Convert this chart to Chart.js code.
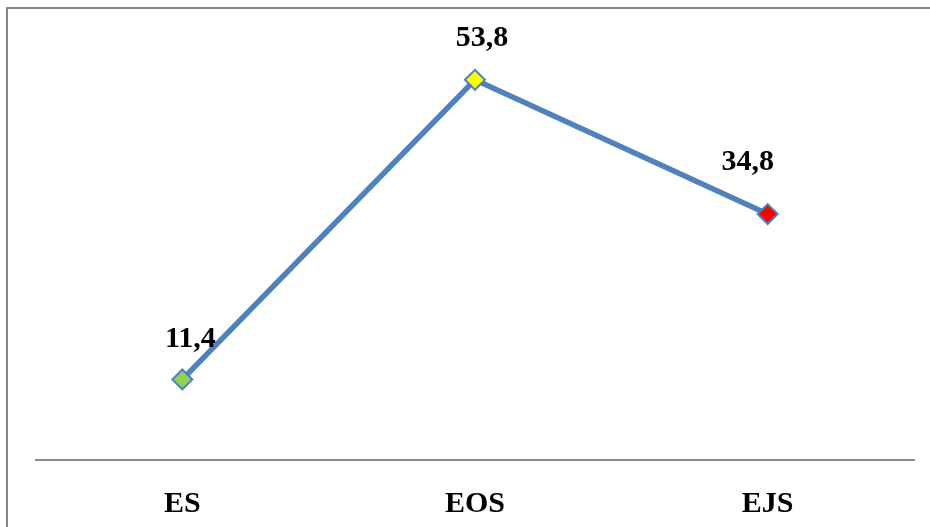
<!DOCTYPE html>
<html>
<head>
<meta charset="utf-8">
<script src="https://cdn.jsdelivr.net/npm/chart.js@4/dist/chart.umd.min.js"></script>
<style>
  html, body { margin: 0; padding: 0; background: #fff; }
  #wrap { width: 930px; height: 527px; position: relative; }
</style>
</head>
<body>
<div id="wrap"><canvas id="chart" width="930" height="527"></canvas></div>
<script>
const categories = ['ES', 'EOS', 'EJS'];
const values = [11.4, 53.8, 34.8];
const pointColors = ['#92D050', '#FFFF00', '#FF0000'];
const valueLabels = ['11,4', '53,8', '34,8'];
// label offsets relative to each point (px)
const labelOffsets = [[8, -40], [7, -42], [-20, -52]];

const FONT = '"Liberation Serif", "Times New Roman", serif';

// frame (left + top edge) and value labels
const decor = {
  id: 'decor',
  beforeDraw(chart) {
    const ctx = chart.ctx;
    ctx.save();
    ctx.strokeStyle = '#868686';
    ctx.lineWidth = 2;
    ctx.beginPath();
    ctx.moveTo(7, 527);
    ctx.lineTo(7, 8);
    ctx.lineTo(930, 8);
    ctx.stroke();
    ctx.restore();
  },
  afterDatasetsDraw(chart) {
    const ctx = chart.ctx;
    const meta = chart.getDatasetMeta(0);
    ctx.save();
    ctx.font = 'bold 30px ' + FONT;
    ctx.fillStyle = '#000';
    ctx.textAlign = 'center';
    ctx.textBaseline = 'middle';
    meta.data.forEach((pt, i) => {
      const [dx, dy] = labelOffsets[i];
      ctx.fillText(valueLabels[i], pt.x + dx, pt.y + dy);
    });
    ctx.restore();
  }
};

new Chart(document.getElementById('chart'), {
  type: 'line',
  data: {
    labels: categories,
    datasets: [{
      data: values,
      borderColor: '#4F81BD',
      borderWidth: 5.5,
      tension: 0,
      pointStyle: 'rectRot',
      pointRadius: 10,
      pointBorderWidth: 2,
      pointBorderColor: '#4F81BD',
      pointBackgroundColor: pointColors
    }]
  },
  options: {
    responsive: false,
    animation: false,
    layout: { padding: { left: 36, right: 16, top: 36, bottom: 0 } },
    plugins: { legend: { display: false }, tooltip: { enabled: false } },
    scales: {
      x: {
        offset: true,
        grid: { display: false, drawTicks: false },
        border: { display: true, color: '#8C8C8C', width: 2 },
        ticks: { color: '#000', font: { family: FONT, size: 30, weight: 'bold' }, padding: 26 },
        afterFit: (scale) => { scale.height = 67; }
      },
      y: {
        display: false,
        min: 0,
        max: 60
      }
    }
  },
  plugins: [decor]
});
</script>
</body>
</html>
